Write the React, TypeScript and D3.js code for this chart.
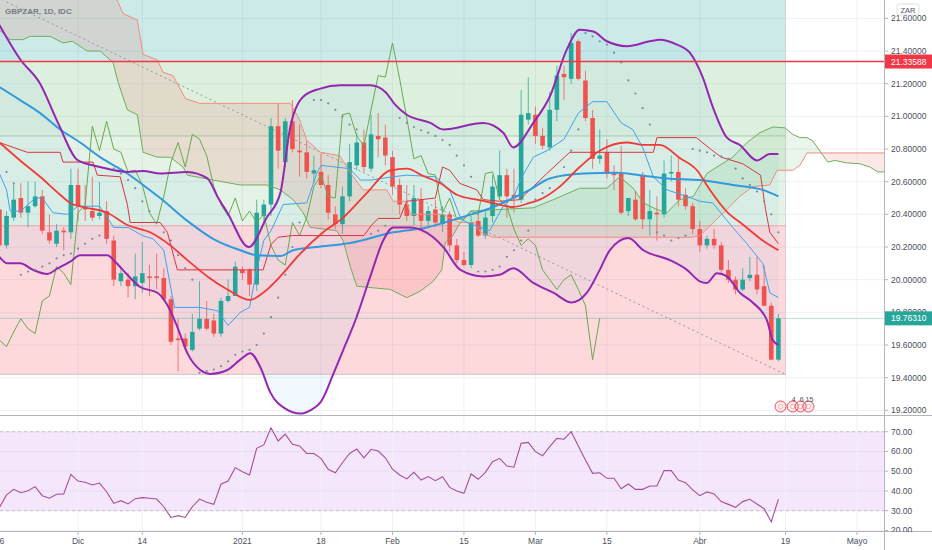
import React, { useEffect, useRef } from 'react';
import * as d3 from 'd3';

type Pt = [number, number]; // [bar index from 16 Nov 2020, price]

const W = 932;
const H = 550;
const AXIS_X = 884; // right price scale starts here
const PANE_SPLIT = 415; // price pane / RSI pane border
const TIME_Y = 531; // top of the time axis

// Trading days (weekdays) from Mon 16 Nov 2020; bar index k = position in this list
const dates = d3.utcDay
  .range(new Date(Date.UTC(2020, 10, 16)), new Date(Date.UTC(2021, 5, 1)))
  .filter(d => d.getUTCDay() !== 0 && d.getUTCDay() !== 6);
const fmt = d3.utcFormat('%Y-%m-%d');
const dateIndex = new Map(dates.map((d, i) => [fmt(d), i]));

// GBPZAR daily candles, 16 Nov 2020 .. 16 Apr 2021
const open = [
  20.43, 20.21, 20.38, 20.5, 20.41, 20.45, 20.51, 20.29, 20.22, 20.3,
  20.29, 20.58, 20.45, 20.42, 20.39, 20.42, 20.24, 19.99, 20.0, 19.96,
  19.98, 20.02, 20.02, 20.01, 19.88, 19.64, 19.64, 19.57, 19.7, 19.76,
  19.75, 19.67, 19.87, 19.9, 20.06, 20.06, 19.97, 20.39, 20.46, 20.94,
  20.72, 20.97, 20.79, 20.78, 20.65, 20.66, 20.58, 20.4, 20.34, 20.51,
  20.7, 20.84, 20.68, 20.88, 20.87, 20.75, 20.58, 20.46, 20.39, 20.49,
  20.36, 20.43, 20.34, 20.4, 20.21, 20.12, 20.09, 20.36, 20.27, 20.39,
  20.51, 20.64, 20.52, 20.49, 20.98, 21.01, 20.88, 20.81, 21.04, 21.26,
  21.23, 21.46, 21.22, 20.99, 20.74, 20.78, 20.65, 20.65, 20.42, 20.49,
  20.64, 20.37, 20.41, 20.4, 20.65, 20.66, 20.52, 20.45, 20.31, 20.21,
  20.25, 20.21, 20.06, 20.0, 19.94, 20.01, 20.03, 19.96, 19.84, 19.51,
];
const high = [
  20.47, 20.42, 20.59, 20.59, 20.6, 20.6, 20.55, 20.4, 20.34, 20.32,
  20.68, 20.68, 20.58, 20.63, 20.6, 20.48, 20.27, 20.08, 20.04, 20.16,
  20.23, 20.09, 20.16, 20.07, 19.9, 19.76, 19.67, 19.79, 19.99, 19.87,
  19.79, 19.89, 20.0, 20.11, 20.08, 20.07, 20.49, 20.49, 20.99, 21.08,
  20.99, 21.1, 20.95, 20.85, 20.76, 20.77, 20.64, 20.45, 20.57, 20.83,
  20.9, 20.92, 21.01, 21.02, 20.95, 20.79, 20.62, 20.58, 20.58, 20.56,
  20.45, 20.49, 20.45, 20.42, 20.25, 20.17, 20.39, 20.43, 20.42, 20.64,
  20.79, 20.68, 20.68, 21.16, 21.24, 21.06, 20.93, 21.15, 21.31, 21.31,
  21.51, 21.47, 21.28, 21.04, 20.92, 20.86, 20.7, 20.82, 20.5, 20.54,
  20.66, 20.55, 20.51, 20.73, 20.76, 20.75, 20.56, 20.47, 20.36, 20.27,
  20.31, 20.23, 20.12, 20.02, 20.07, 20.14, 20.14, 20.09, 19.86, 19.79,
];
const low = [
  20.17, 20.19, 20.36, 20.38, 20.32, 20.44, 20.28, 20.22, 20.2, 20.18,
  20.25, 20.36, 20.36, 20.36, 20.37, 20.22, 19.96, 19.96, 19.89, 19.88,
  19.92, 19.9, 19.94, 19.87, 19.6, 19.44, 19.57, 19.56, 19.69, 19.69,
  19.65, 19.65, 19.86, 19.9, 20.0, 19.9, 19.93, 20.33, 20.39, 20.68,
  20.69, 20.78, 20.63, 20.62, 20.59, 20.56, 20.37, 20.31, 20.28, 20.48,
  20.67, 20.66, 20.66, 20.75, 20.7, 20.52, 20.4, 20.36, 20.33, 20.3,
  20.33, 20.32, 20.29, 20.17, 20.1, 20.08, 20.07, 20.26, 20.25, 20.35,
  20.49, 20.38, 20.41, 20.47, 20.95, 20.83, 20.8, 20.79, 20.97, 21.1,
  21.2, 21.22, 20.97, 20.68, 20.71, 20.62, 20.55, 20.4, 20.39, 20.36,
  20.31, 20.27, 20.24, 20.38, 20.6, 20.45, 20.43, 20.28, 20.17, 20.19,
  20.19, 20.04, 19.98, 19.91, 19.93, 19.99, 19.91, 19.84, 19.51, 19.5,
];
const close = [
  20.21, 20.39, 20.49, 20.41, 20.45, 20.51, 20.3, 20.24, 20.3, 20.29,
  20.58, 20.45, 20.43, 20.38, 20.41, 20.25, 20.0, 20.04, 19.96, 20.02,
  20.04, 20.01, 20.01, 19.88, 19.62, 19.63, 19.59, 19.68, 19.76, 19.7,
  19.67, 19.87, 19.9, 20.08, 20.04, 19.97, 20.41, 20.46, 20.94, 20.79,
  20.97, 20.8, 20.78, 20.66, 20.67, 20.58, 20.41, 20.34, 20.51, 20.72,
  20.84, 20.69, 20.89, 20.86, 20.76, 20.57, 20.46, 20.39, 20.5, 20.36,
  20.42, 20.35, 20.4, 20.21, 20.12, 20.09, 20.35, 20.27, 20.38, 20.57,
  20.64, 20.51, 20.5, 21.01, 21.02, 20.88, 20.82, 21.04, 21.25, 21.24,
  21.45, 21.23, 20.99, 20.74, 20.76, 20.65, 20.64, 20.41, 20.5, 20.37,
  20.37, 20.42, 20.4, 20.65, 20.66, 20.49, 20.45, 20.31, 20.21, 20.25,
  20.21, 20.06, 20.0, 19.94, 20.0, 20.03, 19.94, 19.84, 19.51, 19.7631,
];

// RSI(14), one value per candle
const rsi = [
  31.7, 38.0, 40.8, 39.1, 40.1, 42.2, 37.6, 36.3, 38.3, 38.5,
  48.4, 45.0, 44.4, 43.0, 44.0, 39.6, 33.7, 35.1, 33.4, 36.1,
  36.6, 36.3, 35.9, 32.0, 26.6, 27.5, 26.6, 32.0, 35.9, 34.3,
  33.2, 43.4, 45.0, 51.8, 49.7, 48.1, 61.6, 63.3, 72.0, 65.3,
  68.8, 63.6, 62.8, 59.0, 59.0, 56.5, 51.0, 49.2, 54.3, 59.0,
  61.2, 56.8, 61.1, 60.2, 56.8, 51.0, 48.1, 46.1, 49.4, 45.5,
  47.3, 45.2, 47.2, 41.8, 40.0, 38.8, 48.6, 45.9, 49.4, 54.8,
  56.5, 52.6, 52.0, 64.1, 64.6, 59.9, 57.8, 62.4, 66.6, 66.2,
  70.0, 62.8, 55.7, 48.9, 49.2, 46.4, 46.4, 41.1, 43.5, 40.8,
  40.8, 42.5, 42.5, 50.3, 50.3, 45.5, 44.2, 40.5, 37.6, 39.5,
  38.5, 34.6, 33.2, 31.7, 34.6, 35.8, 33.4, 31.0, 24.4, 35.9,
];

// Bollinger bands
const bbUpper: Pt[] = [
  [0, 21.56], [2.9, 21.35], [5.7, 21.2], [8.2, 20.96], [11, 20.73], [14.1, 20.69], [17.9, 20.66],
  [20.1, 20.665], [22.5, 20.65], [26.3, 20.66], [29.1, 20.62], [30.5, 20.51], [31.9, 20.41],
  [34.9, 20.2], [37.4, 20.38], [39.3, 20.53], [40.7, 20.935], [42.5, 21.12], [44.9, 21.17],
  [47.7, 21.19], [51.9, 21.19], [54, 21.15], [55.4, 21.07], [57, 21.01], [60.3, 20.96],
  [62.1, 20.92], [67.7, 20.96], [70.5, 20.9], [71.9, 20.81], [74.7, 20.96], [77, 21.12],
  [79.4, 21.41], [81.2, 21.53], [83.1, 21.52], [85, 21.46], [87.8, 21.43], [91, 21.46],
  [92.4, 21.47], [94.8, 21.44], [96.6, 21.39], [98.4, 21.24], [99.8, 21.06], [101.8, 20.87],
  [103.6, 20.825], [106, 20.73], [107.8, 20.77], [109, 20.77],
];
const bbLower: Pt[] = [
  [0, 20.14], [1.1, 20.1], [2.9, 20.1], [4.7, 20.06], [6.7, 20.035], [8.2, 20.07], [9.9, 20.11],
  [11.3, 20.15], [15.1, 20.15], [16.2, 20.11], [17.9, 20.03], [19.7, 19.955], [22.1, 19.92],
  [23.5, 19.845], [24.9, 19.71], [26.3, 19.55], [28.1, 19.447], [29.5, 19.423], [31.9, 19.447],
  [33.7, 19.51], [35.1, 19.55], [36.5, 19.465], [37.9, 19.31], [40, 19.21], [42.1, 19.18],
  [43.5, 19.2], [45.1, 19.26], [46.7, 19.42], [48.4, 19.6], [49.8, 19.75], [51.9, 20.02],
  [53.7, 20.24], [55.1, 20.32], [57.5, 20.32], [60.7, 20.26], [62.1, 20.2], [64.5, 20.06],
  [67.7, 20.02], [70, 20.03], [71.9, 20.07], [74.7, 19.98], [77.5, 19.92], [80.1, 19.86],
  [82.2, 19.92], [84, 20.06], [85.4, 20.18], [88, 20.255], [90.1, 20.18], [93.8, 20.12],
  [96.2, 20.06], [98, 19.99], [99, 19.98], [100.4, 20.04], [101.8, 20.02], [103.6, 19.92],
  [105.4, 19.86], [107.4, 19.75], [108.2, 19.63], [109, 19.6],
];
const bbBasis: Pt[] = [
  [0, 20.84], [2.9, 20.73], [5.7, 20.63], [8.5, 20.52], [9.9, 20.47], [11.7, 20.445], [15.1, 20.41],
  [17.9, 20.335], [21.1, 20.29], [23.9, 20.21], [26.3, 20.12], [29.1, 20.02], [31.9, 19.94],
  [35.1, 19.876], [36.9, 19.92], [39.3, 20.02], [42.1, 20.16], [45.3, 20.29], [48.1, 20.38],
  [51.4, 20.53], [54.7, 20.67], [57, 20.68], [59.3, 20.635], [61.7, 20.59], [64, 20.52],
  [66.8, 20.49], [69, 20.47], [71.9, 20.445], [74.2, 20.47], [75.6, 20.49], [78.4, 20.57],
  [81.2, 20.69], [84, 20.79], [87.8, 20.84], [90.1, 20.825], [92.4, 20.825], [95.2, 20.745],
  [97.6, 20.67], [99.4, 20.55], [101.8, 20.415], [104.1, 20.335], [106.8, 20.24], [109, 20.18],
];
// Slow moving average (thick blue)
const maSlow: Pt[] = [
  [0, 21.18], [2.9, 21.1], [5.7, 21.02], [8.5, 20.92], [11.3, 20.84], [14.1, 20.75], [17.9, 20.65],
  [20.7, 20.56], [22.5, 20.5], [26.3, 20.36], [29.9, 20.25], [33.7, 20.18], [36, 20.15],
  [39.3, 20.145], [41.1, 20.18], [44.4, 20.2], [49.1, 20.225], [55.1, 20.29], [59.8, 20.32],
  [64.5, 20.38], [69.1, 20.445], [71.4, 20.49], [74.2, 20.55], [77, 20.62], [81.7, 20.65],
  [86.4, 20.655], [89.6, 20.64], [93.4, 20.62], [98, 20.61], [102.6, 20.58], [106.8, 20.55],
  [109, 20.51],
];
// Ichimoku
const tenkan: Pt[] = [
  [0, 20.65], [1, 20.55], [1.5, 20.42], [3, 20.42], [4, 20.46], [5, 20.5], [6, 20.5], [7.5, 20.41],
  [9.5, 20.4], [11, 20.45], [14, 20.45], [16, 20.32], [18, 20.32], [20, 20.27], [21.5, 20.25],
  [23, 20.18], [24.5, 19.83], [28, 19.83], [30.5, 19.81], [32, 19.72], [33.7, 19.8], [35, 19.83],
  [36, 20.06], [37, 20.24], [38, 20.3], [39.7, 20.46], [43, 20.47], [44.4, 20.65], [45, 20.7],
  [49, 20.68], [50.5, 20.61], [52, 20.61], [55, 20.63], [57, 20.64], [61, 20.63], [63, 20.55],
  [64.5, 20.38], [65.4, 20.35], [68.6, 20.3], [70.5, 20.45], [72, 20.51], [73, 20.62],
  [74.7, 20.75], [76.6, 20.79], [79, 20.86], [81, 21.02], [83, 21.09], [85, 21.09], [87, 20.96],
  [88.6, 20.92], [90, 20.81], [91.5, 20.63], [93.4, 20.55], [96.2, 20.51], [98, 20.48],
  [99.8, 20.47], [102.6, 20.32], [104.6, 20.22], [106.8, 20.1], [107.8, 19.92], [109, 19.89],
];
const kijun: Pt[] = [
  [0, 20.84], [3.9, 20.78], [8.5, 20.78], [8.9, 20.72], [13.1, 20.72], [13.7, 20.64], [16.9, 20.63],
  [17.9, 20.46], [18.3, 20.35], [22.5, 20.35], [23.5, 20.29], [24.9, 20.06], [36.9, 20.06],
  [38, 20.215], [39, 20.26], [41, 20.27], [51, 20.27], [52, 20.33], [53, 20.375], [56, 20.375],
  [57, 20.48], [61, 20.5], [62, 20.69], [63, 20.67], [64.4, 20.59], [66.8, 20.55], [67.7, 20.49],
  [70, 20.48], [72.8, 20.49], [76.6, 20.65], [79.8, 20.78], [91.5, 20.78], [92, 20.87],
  [97.5, 20.87], [99.5, 20.8], [101, 20.75], [104, 20.71], [106.5, 20.64], [107.2, 20.43],
  [107.8, 20.29], [109, 20.22],
];
const senkouA: Pt[] = [
  [0, 21.53], [1.5, 21.47], [3.3, 21.47], [4.3, 21.49], [7.1, 21.49], [8.9, 21.45], [10.2, 21.46],
  [12.3, 21.4], [14.1, 21.4], [15.9, 21.33], [16.6, 21.21], [17.9, 21.04], [19.3, 21.01],
  [20.1, 20.78], [22.1, 20.75], [23.9, 20.75], [25.7, 20.69], [26.3, 20.64], [29.9, 20.61],
  [33.7, 20.58], [37.4, 20.58], [39.3, 20.55], [41.1, 20.49], [42.5, 20.41], [43.5, 20.32],
  [47.2, 20.3], [48.1, 20.24], [49.1, 20.08], [50, 19.96], [52.3, 19.95], [54.7, 19.94],
  [57, 19.89], [58.9, 19.93], [60.7, 19.99], [61.9, 20.06], [62.4, 20.23], [63.3, 20.26],
  [64.5, 20.35], [65.9, 20.42], [70, 20.43], [74.7, 20.44], [77.5, 20.49], [81.2, 20.56],
  [85, 20.56], [86.8, 20.63], [88.7, 20.56], [90.1, 20.47], [92, 20.43], [93.4, 20.41],
  [95.2, 20.49], [97.1, 20.51], [99, 20.65], [100.4, 20.69], [102.6, 20.75], [104.6, 20.84],
  [106.4, 20.9], [108.2, 20.935], [109.9, 20.93], [111, 20.89], [112, 20.87], [113, 20.87],
  [113.8, 20.85], [115.9, 20.72], [116.9, 20.73], [118.6, 20.715], [120.4, 20.71],
  [121.8, 20.69], [122.9, 20.66], [126, 20.66],
];
const senkouB: Pt[] = [
  [0, 22.05], [12, 21.85], [16.5, 21.71], [17.3, 21.63], [19.3, 21.59], [20.1, 21.38],
  [22.1, 21.345], [22.9, 21.27], [24.3, 21.25], [26, 21.11], [28, 21.08], [40.7, 21.08],
  [42, 20.98], [43, 20.855], [44.9, 20.78], [47.6, 20.76], [49.5, 20.63], [50.9, 20.55],
  [54.2, 20.55], [55.1, 20.48], [57, 20.48], [57.5, 20.4], [62, 20.4], [64.4, 20.35],
  [66.5, 20.35], [67.3, 20.29], [69, 20.26], [97, 20.26], [98, 20.27], [101.8, 20.43],
  [103.6, 20.51], [105.4, 20.57], [107.8, 20.58], [108.8, 20.67], [111, 20.67], [112, 20.7],
  [113, 20.776], [126, 20.776],
];
const chikouShift = 25;

// Parabolic SAR dots
const sar: Pt[] = [
  [1, 20.66], [2, 20.59], [3, 20.03], [4, 20.05], [5, 20.06], [6, 20.08], [7, 20.1], [8, 20.13],
  [9, 20.15], [10, 20.16], [11, 20.19], [12, 20.22], [13, 20.25], [14, 20.27], [16, 20.68],
  [17, 20.65], [18, 20.61], [19, 20.56], [20, 20.48], [21, 20.42], [22, 20.35], [23, 20.29],
  [24, 20.24], [25, 20.15], [26, 20.07], [27, 20.0], [28, 19.43], [29, 19.44], [30, 19.45],
  [31, 19.47], [32, 19.5], [33, 19.54], [34, 19.56], [35, 19.57], [36, 19.6], [37, 19.67],
  [38, 19.77], [39, 19.89], [40, 20.03], [41, 20.2], [42, 20.35], [44, 21.1], [45, 21.1],
  [46, 21.08], [47, 21.04], [48, 21.0], [49, 20.95], [50, 20.92], [52, 20.28], [53, 20.3],
  [54, 20.33], [56, 20.99], [57, 20.96], [58, 20.935], [59, 20.915], [60, 20.9], [61, 20.88],
  [62, 20.855], [63, 20.825], [64, 20.76], [65, 20.7], [66, 20.63], [67, 20.05], [68, 20.05],
  [69, 20.06], [70, 20.08], [71, 20.14], [72, 20.18], [73, 20.24], [74, 20.3], [75, 20.49],
  [76, 20.53], [77, 20.56], [78, 20.63], [79, 20.69], [80, 20.79], [81, 20.92], [82, 21.51],
  [83, 21.49], [84, 21.46], [85, 21.44], [86, 21.39], [87, 21.33], [88, 21.22], [89, 21.14],
  [90, 21.05], [91, 20.95], [92, 20.29], [93, 20.27], [94, 20.24], [95, 20.255], [96, 20.27],
  [97, 20.8], [98, 20.79], [99, 20.78], [100, 20.76], [101, 20.755], [102, 20.74], [103, 20.68],
  [104, 20.62], [105, 20.58], [106, 20.54], [107, 20.48], [108, 20.4], [109, 20.29],
];

// Drawings
const trendLine: Pt[] = [[1, 21.7], [110, 19.42]];
const resistance = 21.33588;
const zoneEdges = [21.8, 21.33588, 20.88, 20.33, 19.42];
const zoneEndDate = '2021-04-19';

// Axes
const priceTicks = [19.2, 19.4, 19.6, 19.8, 20.0, 20.2, 20.4, 20.6, 20.8, 21.0, 21.2, 21.4, 21.6];
const rsiTicks = [20, 30, 40, 50, 60, 70];
const timeTicks: [string, string][] = [
  ['2020-11-16', '16'], ['2020-12-01', 'Dic'], ['2020-12-14', '14'], ['2021-01-01', '2021'],
  ['2021-01-18', '18'], ['2021-02-01', 'Feb'], ['2021-02-15', '15'], ['2021-03-01', 'Mar'],
  ['2021-03-15', '15'], ['2021-04-01', 'Abr'], ['2021-04-19', '19'], ['2021-05-03', 'Mayo'],
];
const eventMarks: [number, string][] = [[109.3, ''], [111, '4'], [112.1, '6'], [113.2, '15']];

const UP = '#26a69a';
const DOWN = '#ef5350';
const FONT = '"Liberation Sans", Arial, sans-serif';

export default function App() {
  const svgRef = useRef<SVGSVGElement>(null);

  useEffect(() => {
    if (!svgRef.current) return;
    const svg = d3.select(svgRef.current);
    svg.selectAll('*').remove();

    const x = d3.scaleLinear().domain([0, 100]).range([-0.6, 714.1]);
    const y = d3.scaleLinear().domain([19.2, 21.6]).range([410.3, 18.4]);
    const yR = d3.scaleLinear().domain([30, 70]).range([510.7, 431.7]);

    const defs = svg.append('defs');
    defs.append('clipPath').attr('id', 'clip-price')
      .append('rect').attr('x', 0).attr('y', 0).attr('width', AXIS_X).attr('height', PANE_SPLIT);
    defs.append('clipPath').attr('id', 'clip-rsi')
      .append('rect').attr('x', 0).attr('y', PANE_SPLIT).attr('width', AXIS_X).attr('height', TIME_Y - PANE_SPLIT);

    const joinPts = (pts: Pt[]) => pts.map(d => `${x(d[0])},${y(d[1])}`).join('L');
    const last = (pts: Pt[]) => pts[pts.length - 1];
    const aboveOf = (pts: Pt[]) => `M${x(pts[0][0])},-100L${joinPts(pts)}L${x(last(pts)[0])},-100Z`;
    const belowOf = (pts: Pt[]) => `M${x(pts[0][0])},${H + 100}L${joinPts(pts)}L${x(last(pts)[0])},${H + 100}Z`;
    defs.append('clipPath').attr('id', 'above-b').append('path').attr('d', aboveOf(senkouB));
    defs.append('clipPath').attr('id', 'above-a').append('path').attr('d', aboveOf(senkouA));

    svg.append('rect').attr('width', W).attr('height', H).attr('fill', '#ffffff');

    const tickX = timeTicks.map(([d]) => x(dateIndex.get(d) ?? 0));

    // ---- price pane ----
    const pane = svg.append('g').attr('clip-path', 'url(#clip-price)');

    // grid
    pane.selectAll('line.hgrid').data(priceTicks).enter().append('line')
      .attr('x1', 0).attr('x2', AXIS_X).attr('y1', d => y(d)).attr('y2', d => y(d))
      .attr('stroke', '#eef1f6').attr('stroke-width', 1);
    pane.selectAll('line.vgrid').data(tickX).enter().append('line')
      .attr('x1', d => d).attr('x2', d => d).attr('y1', 0).attr('y2', PANE_SPLIT)
      .attr('stroke', '#eef1f6').attr('stroke-width', 1);

    // fibonacci style zones
    const zoneRight = x(dateIndex.get(zoneEndDate) ?? 110);
    const zoneColors = ['rgba(0,150,136,0.2)', 'rgba(76,175,80,0.19)', 'rgba(76,175,80,0.15)', 'rgba(242,54,69,0.19)'];
    for (let i = 0; i < zoneEdges.length - 1; i++) {
      pane.append('rect')
        .attr('x', -5).attr('width', zoneRight + 5)
        .attr('y', y(zoneEdges[i])).attr('height', y(zoneEdges[i + 1]) - y(zoneEdges[i]))
        .attr('fill', zoneColors[i]);
    }

    // bollinger fill
    pane.append('path')
      .attr('d', `M${joinPts(bbUpper)}L${joinPts([...bbLower].reverse())}Z`)
      .attr('fill', 'rgba(33,150,243,0.06)');

    // ichimoku cloud
    pane.append('path').attr('d', belowOf(senkouA)).attr('clip-path', 'url(#above-b)')
      .attr('fill', 'rgba(67,160,71,0.11)');
    pane.append('path').attr('d', belowOf(senkouB)).attr('clip-path', 'url(#above-a)')
      .attr('fill', 'rgba(244,67,54,0.12)');

    // zone borders
    const zoneLine = (p: number, color: string) => pane.append('line')
      .attr('x1', -5).attr('x2', zoneRight).attr('y1', y(p)).attr('y2', y(p))
      .attr('stroke', color).attr('stroke-width', 1);
    zoneLine(zoneEdges[2], 'rgba(120,160,120,0.45)');
    zoneLine(zoneEdges[3], 'rgba(242,54,69,0.35)');
    zoneLine(zoneEdges[4], 'rgba(120,123,134,0.35)');
    pane.append('line').attr('x1', zoneRight).attr('x2', zoneRight)
      .attr('y1', y(zoneEdges[0])).attr('y2', y(zoneEdges[4]))
      .attr('stroke', 'rgba(120,123,134,0.15)');

    // dotted trend line
    pane.append('line')
      .attr('x1', x(trendLine[0][0])).attr('y1', y(trendLine[0][1]))
      .attr('x2', x(trendLine[1][0])).attr('y2', y(trendLine[1][1]))
      .attr('stroke', '#9598a1').attr('stroke-width', 1).attr('stroke-dasharray', '2,3');

    // candles
    const bw = 4.6;
    close.forEach((c, i) => {
      const o = open[i];
      const col = c >= o ? UP : DOWN;
      const cx = x(i);
      pane.append('line')
        .attr('x1', cx).attr('x2', cx).attr('y1', y(high[i])).attr('y2', y(low[i]))
        .attr('stroke', col).attr('stroke-opacity', 0.75).attr('stroke-width', 1);
      const top = y(Math.max(o, c));
      pane.append('rect')
        .attr('x', cx - bw / 2).attr('width', bw)
        .attr('y', top).attr('height', Math.max(1, y(Math.min(o, c)) - top))
        .attr('fill', col);
    });

    // indicator lines
    const drawLine = (pts: Pt[], color: string, width: number, smooth = false) => {
      const gen = d3.line<Pt>().x(d => x(d[0])).y(d => y(d[1]));
      if (smooth) gen.curve(d3.curveMonotoneX);
      pane.append('path').attr('d', gen(pts) ?? '')
        .attr('fill', 'none').attr('stroke', color).attr('stroke-width', width)
        .attr('stroke-linejoin', 'round');
    };
    drawLine(senkouB, '#f28b82', 1);
    drawLine(senkouA, '#6fae5f', 1);
    const chikou: Pt[] = close.map((c, i) => [i - chikouShift, c] as Pt).filter(d => d[0] >= -1);
    drawLine(chikou, '#6aa84f', 1);
    drawLine(kijun, '#d9363e', 1);
    drawLine(tenkan, '#3fa2ef', 1);
    drawLine(maSlow, '#3399dd', 2, true);
    drawLine(bbBasis, '#ef3b36', 1.8, true);
    drawLine(bbUpper, '#9427b0', 2, true);
    drawLine(bbLower, '#9427b0', 2, true);

    // parabolic SAR
    pane.selectAll('circle.sar').data(sar).enter().append('circle')
      .attr('cx', d => x(d[0])).attr('cy', d => y(d[1])).attr('r', 1.1)
      .attr('fill', '#7d8a9c');

    // resistance and last price lines
    pane.append('line').attr('x1', 0).attr('x2', AXIS_X)
      .attr('y1', y(resistance)).attr('y2', y(resistance))
      .attr('stroke', '#f23645').attr('stroke-width', 1.4);
    const lastClose = close[close.length - 1];
    pane.append('line').attr('x1', 0).attr('x2', AXIS_X)
      .attr('y1', y(lastClose)).attr('y2', y(lastClose))
      .attr('stroke', UP).attr('stroke-opacity', 0.35).attr('stroke-width', 1);

    // event markers
    const evY = 406.5;
    eventMarks.forEach(([k, label]) => {
      pane.append('circle').attr('cx', x(k)).attr('cy', evY).attr('r', 5.5)
        .attr('fill', 'rgba(242,54,69,0.08)').attr('stroke', '#f23645').attr('stroke-width', 0.9);
      pane.append('circle').attr('cx', x(k)).attr('cy', evY).attr('r', 2.2)
        .attr('fill', 'none').attr('stroke', '#f7a1a6').attr('stroke-width', 0.8);
      if (label) {
        pane.append('text').attr('x', x(k) + 1).attr('y', 402)
          .attr('text-anchor', 'middle').attr('font-family', FONT).attr('font-size', 7)
          .attr('fill', '#50535e').text(label);
      }
    });

    // title
    svg.append('text').attr('x', 5).attr('y', 14)
      .attr('font-family', FONT).attr('font-size', 8).attr('font-weight', 700)
      .attr('fill', '#787b86').text('GBPZAR, 1D, IDC');

    // ---- RSI pane ----
    const rp = svg.append('g').attr('clip-path', 'url(#clip-rsi)');
    rp.append('rect').attr('x', 0).attr('width', AXIS_X)
      .attr('y', yR(70)).attr('height', yR(30) - yR(70))
      .attr('fill', 'rgba(171,71,232,0.13)');
    rp.selectAll('line.hgrid').data(rsiTicks).enter().append('line')
      .attr('x1', 0).attr('x2', AXIS_X).attr('y1', d => yR(d)).attr('y2', d => yR(d))
      .attr('stroke', 'rgba(150,150,180,0.12)');
    rp.selectAll('line.vgrid').data(tickX).enter().append('line')
      .attr('x1', d => d).attr('x2', d => d).attr('y1', PANE_SPLIT).attr('y2', TIME_Y)
      .attr('stroke', '#eef1f6');
    [70, 30].forEach(v => rp.append('line')
      .attr('x1', 0).attr('x2', AXIS_X).attr('y1', yR(v)).attr('y2', yR(v))
      .attr('stroke', '#c4bccd').attr('stroke-dasharray', '3,3').attr('stroke-width', 1));
    const rsiLine = d3.line<number>().x((_, i) => x(i)).y(d => yR(d));
    rp.append('path').attr('d', rsiLine(rsi) ?? '')
      .attr('fill', 'none').attr('stroke', '#a84f98').attr('stroke-width', 1.1);

    // ---- frame and axes ----
    const frame = '#b2b5be';
    svg.append('line').attr('x1', 0).attr('x2', W).attr('y1', PANE_SPLIT + 0.5).attr('y2', PANE_SPLIT + 0.5)
      .attr('stroke', frame);
    svg.append('line').attr('x1', 0).attr('x2', W).attr('y1', TIME_Y + 0.5).attr('y2', TIME_Y + 0.5)
      .attr('stroke', frame);
    svg.append('line').attr('x1', AXIS_X + 0.5).attr('x2', AXIS_X + 0.5).attr('y1', 0).attr('y2', H)
      .attr('stroke', frame);

    const axisText = '#4c4f5a';
    priceTicks.forEach(p => {
      svg.append('line').attr('x1', AXIS_X).attr('x2', AXIS_X + 4).attr('y1', y(p)).attr('y2', y(p))
        .attr('stroke', frame);
      svg.append('text').attr('x', AXIS_X + 7).attr('y', y(p) + 3)
        .attr('font-family', FONT).attr('font-size', 8.5).attr('fill', axisText)
        .text(p.toFixed(5));
    });
    rsiTicks.forEach(v => {
      svg.append('line').attr('x1', AXIS_X).attr('x2', AXIS_X + 4).attr('y1', yR(v)).attr('y2', yR(v))
        .attr('stroke', frame);
      svg.append('text').attr('x', AXIS_X + 7).attr('y', yR(v) + 3)
        .attr('font-family', FONT).attr('font-size', 8.5).attr('fill', axisText)
        .text(v.toFixed(2));
    });
    // cover the RSI label that falls into the time axis
    svg.append('rect').attr('x', AXIS_X + 1).attr('y', TIME_Y + 1).attr('width', W - AXIS_X).attr('height', H - TIME_Y)
      .attr('fill', '#ffffff');

    // price label boxes
    const priceBox = (p: number, color: string) => {
      const cy = y(p);
      svg.append('rect').attr('x', AXIS_X + 1).attr('y', cy - 7).attr('width', W - AXIS_X - 1).attr('height', 14)
        .attr('fill', color);
      svg.append('text').attr('x', AXIS_X + 7).attr('y', cy + 3)
        .attr('font-family', FONT).attr('font-size', 8.5).attr('fill', '#ffffff')
        .text(p.toFixed(5));
    };
    priceBox(resistance, '#f23645');
    priceBox(lastClose, UP);

    // currency badge
    svg.append('rect').attr('x', 897).attr('y', 4).attr('width', 22).attr('height', 11).attr('rx', 2)
      .attr('fill', '#ffffff').attr('stroke', '#d1d4dc').attr('stroke-width', 0.8);
    svg.append('text').attr('x', 908).attr('y', 12.5).attr('text-anchor', 'middle')
      .attr('font-family', FONT).attr('font-size', 7.5).attr('fill', '#50535e').text('ZAR');

    // time axis
    timeTicks.forEach(([, label], i) => {
      const tx = tickX[i];
      svg.append('line').attr('x1', tx).attr('x2', tx).attr('y1', TIME_Y).attr('y2', TIME_Y + 4)
        .attr('stroke', frame);
      svg.append('text').attr('x', tx).attr('y', 544).attr('text-anchor', 'middle')
        .attr('font-family', FONT).attr('font-size', 8.5).attr('fill', axisText)
        .text(label);
    });
  }, []);

  return (
    <div style={{ position: 'fixed', left: 0, top: 0, width: W, height: H, background: '#fff' }}>
      <svg ref={svgRef} width={W} height={H} style={{ display: 'block' }} />
    </div>
  );
}
